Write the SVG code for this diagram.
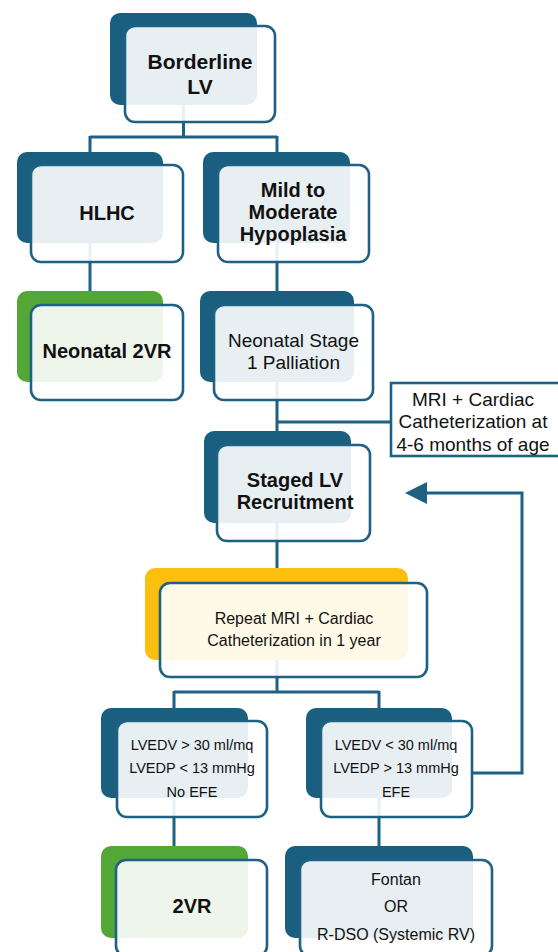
<svg xmlns="http://www.w3.org/2000/svg" width="558" height="952" viewBox="0 0 558 952">
<defs>
<style>
.back{fill:#1a5f80}
.green{fill:#52a736}
.yellow{fill:#fbbf10}
.front{fill:#ffffff;fill-opacity:0.9;stroke:#1f6183;stroke-width:2.6}
.conn{fill:none;stroke:#1f6183;stroke-width:3}
text{font-family:"Liberation Sans",Arial,sans-serif;fill:#111;text-anchor:middle}
.b{font-weight:bold;font-size:20px}
.r19{font-size:19px}
.r16{font-size:16px}
.r14{font-size:14.5px}
</style>
</defs>
<rect width="558" height="952" fill="#ffffff"/>
<g id="connectors">
<path class="conn" d="M183.5 60 V137 M90 137 H277 M90 136 V170 M277 136 V170"/>
<path class="conn" d="M90 200 V310"/>
<path class="conn" d="M277 200 V310"/>
<path class="conn" d="M277 340 V460 M277 422 H392"/>
<path class="conn" d="M277 480 V600"/>
<path class="conn" d="M277 620 V692 M174 692 H379 M174 691 V730 M379 691 V730"/>
<path class="conn" d="M174 760 V870"/>
<path class="conn" d="M379 760 V870"/>
<path class="conn" d="M472 773 H522 V493 H424"/>
<polygon points="405,493 427,482 427,504" fill="#1f6183"/>
</g>
<g id="borderline-lv">
<rect class="back" x="110" y="13" width="147" height="92" rx="10"/>
<rect class="front" x="125" y="26" width="150" height="96" rx="10"/>
<text class="b" x="200" y="69" style="font-size:21px">Borderline</text>
<text class="b" x="200" y="94" style="font-size:21px">LV</text>
</g>
<g id="hlhc">
<rect class="back" x="17" y="152" width="146" height="91" rx="10"/>
<rect class="front" x="31" y="165" width="152" height="97" rx="10"/>
<text class="b" x="107" y="220">HLHC</text>
</g>
<g id="mild-moderate">
<rect class="back" x="203" y="152" width="147" height="91" rx="10"/>
<rect class="front" x="218" y="165" width="151" height="97" rx="10"/>
<text class="b" x="293" y="197">Mild to</text>
<text class="b" x="293" y="219">Moderate</text>
<text class="b" x="293" y="241">Hypoplasia</text>
</g>
<g id="neonatal-2vr">
<rect class="green" x="17" y="291" width="146" height="91" rx="10"/>
<rect class="front" x="31" y="305" width="152" height="95" rx="10"/>
<text class="b" x="107" y="358">Neonatal 2VR</text>
</g>
<g id="neonatal-stage1">
<rect class="back" x="200" y="291" width="154" height="91" rx="10"/>
<rect class="front" x="214" y="305" width="159" height="95" rx="10"/>
<text class="r19" x="293.5" y="347">Neonatal Stage</text>
<text class="r19" x="293.5" y="369">1 Palliation</text>
</g>
<g id="mri-note">
<rect x="391" y="383" width="175" height="73" fill="#ffffff" stroke="#1f6183" stroke-width="2.6"/>
<text class="r19" x="473" y="406">MRI + Cardiac</text>
<text class="r19" x="473" y="428">Catheterization at</text>
<text class="r19" x="473" y="451">4-6 months of age</text>
</g>
<g id="staged-lv">
<rect class="back" x="204" y="431" width="147" height="92" rx="10"/>
<rect class="front" x="217" y="445" width="153" height="96" rx="10"/>
<text class="b" x="295" y="487">Staged LV</text>
<text class="b" x="295" y="509">Recruitment</text>
</g>
<g id="repeat-mri">
<rect class="yellow" x="145" y="568" width="263" height="92" rx="10"/>
<rect class="front" x="160" y="583" width="267" height="94" rx="10"/>
<text class="r16" x="294" y="624">Repeat MRI + Cardiac</text>
<text class="r16" x="294" y="646">Catheterization in 1 year</text>
</g>
<g id="lvedv-high">
<rect class="back" x="101" y="708" width="147" height="90" rx="10"/>
<rect class="front" x="117" y="721" width="150" height="96" rx="10"/>
<text class="r14" x="192" y="750">LVEDV &gt; 30 ml/mq</text>
<text class="r14" x="192" y="773">LVEDP &lt; 13 mmHg</text>
<text class="r14" x="192" y="797">No EFE</text>
</g>
<g id="lvedv-low">
<rect class="back" x="306" y="708" width="146" height="90" rx="10"/>
<rect class="front" x="321" y="721" width="151" height="96" rx="10"/>
<text class="r14" x="396" y="750">LVEDV &lt; 30 ml/mq</text>
<text class="r14" x="396" y="773">LVEDP &gt; 13 mmHg</text>
<text class="r14" x="396" y="797">EFE</text>
</g>
<g id="two-vr">
<rect class="green" x="101" y="846" width="147" height="92" rx="10"/>
<rect class="front" x="116" y="860" width="151" height="96" rx="10"/>
<text class="b" x="192" y="913">2VR</text>
</g>
<g id="fontan">
<rect class="back" x="285" y="846" width="188" height="92" rx="10"/>
<rect class="front" x="300" y="860" width="192" height="96" rx="10"/>
<text class="r16" x="396" y="885">Fontan</text>
<text class="r16" x="396" y="912">OR</text>
<text class="r16" x="396" y="940">R-DSO (Systemic RV)</text>
</g>
</svg>
